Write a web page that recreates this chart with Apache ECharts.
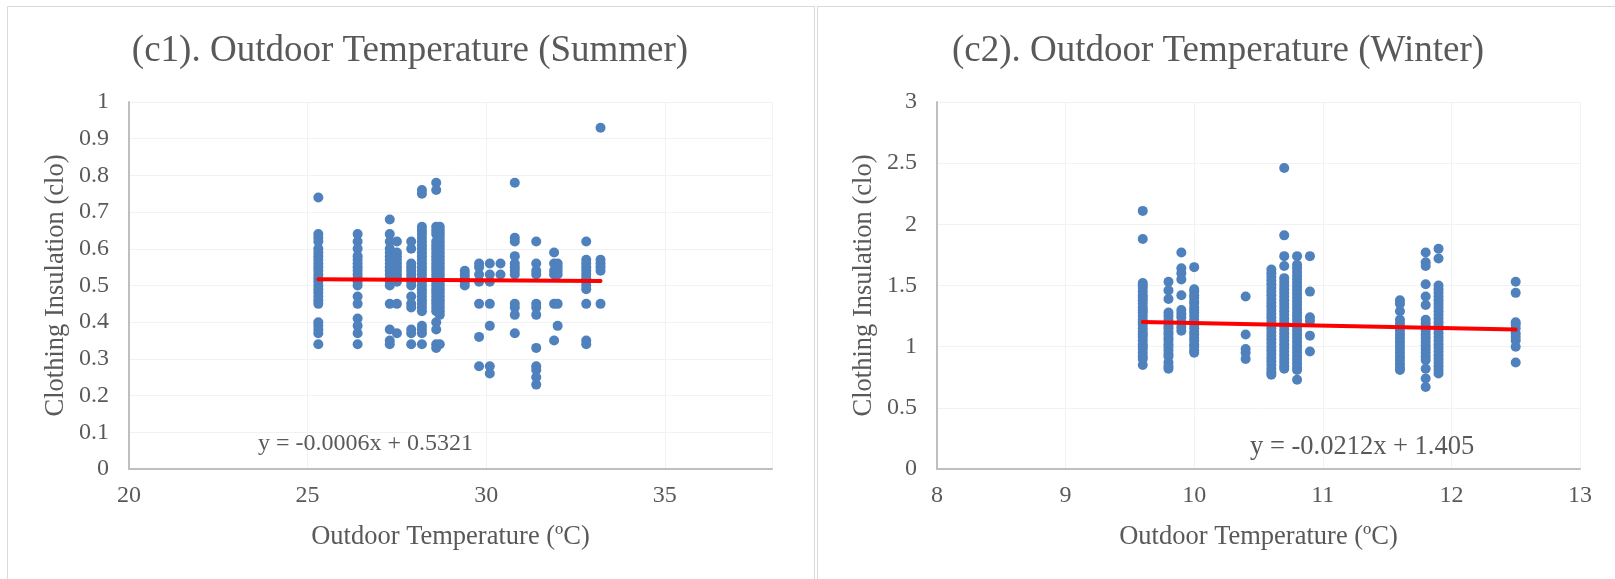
<!DOCTYPE html>
<html>
<head>
<meta charset="utf-8">
<title>Clothing Insulation vs Outdoor Temperature</title>
<script src="https://cdn.jsdelivr.net/npm/echarts@6/dist/echarts.min.js"></script>
<style>
  html, body { margin: 0; padding: 0; background: #ffffff; }
  #chart { width: 1615px; height: 579px; }
</style>
</head>
<body>
<div id="chart"></div>
<script>
// ---- Summer survey: outdoor temperature (°C) and clothing insulation (clo) ----
const summerTemp = [25.3, 26.4, 27.3, 27.5, 27.9, 28.2, 28.6, 28.7, 29.4, 29.8, 30.1, 30.4, 30.8, 31.4, 31.9, 32.0, 32.8, 33.2];
const summerClo = [
  [0.74, 0.64, 0.63, 0.62, 0.60, 0.59, 0.58, 0.57, 0.56, 0.55, 0.54, 0.53, 0.52, 0.51, 0.50, 0.49, 0.48, 0.47, 0.46, 0.45, 0.40, 0.39, 0.38, 0.37, 0.34],
  [0.64, 0.62, 0.60, 0.58, 0.57, 0.56, 0.55, 0.54, 0.53, 0.52, 0.51, 0.50, 0.47, 0.45, 0.41, 0.39, 0.37, 0.34],
  [0.68, 0.64, 0.62, 0.60, 0.59, 0.58, 0.57, 0.56, 0.55, 0.54, 0.53, 0.52, 0.51, 0.50, 0.45, 0.38, 0.35, 0.34],
  [0.62, 0.59, 0.58, 0.57, 0.56, 0.55, 0.54, 0.53, 0.52, 0.51, 0.45, 0.37],
  [0.62, 0.60, 0.56, 0.55, 0.54, 0.53, 0.52, 0.51, 0.50, 0.47, 0.45, 0.44, 0.38, 0.37, 0.34],
  [0.76, 0.75, 0.66, 0.65, 0.64, 0.63, 0.62, 0.61, 0.60, 0.59, 0.58, 0.57, 0.56, 0.55, 0.54, 0.53, 0.52, 0.51, 0.50, 0.49, 0.48, 0.47, 0.46, 0.45, 0.44, 0.43, 0.39, 0.38, 0.37, 0.34],
  [0.78, 0.76, 0.66, 0.65, 0.64, 0.62, 0.61, 0.60, 0.59, 0.58, 0.57, 0.56, 0.55, 0.54, 0.53, 0.52, 0.51, 0.50, 0.49, 0.48, 0.47, 0.46, 0.45, 0.44, 0.43, 0.40, 0.38, 0.34, 0.33],
  [0.66, 0.65, 0.64, 0.63, 0.62, 0.61, 0.60, 0.59, 0.58, 0.57, 0.56, 0.55, 0.54, 0.53, 0.52, 0.51, 0.50, 0.49, 0.48, 0.47, 0.46, 0.45, 0.44, 0.43, 0.42, 0.34],
  [0.54, 0.53, 0.52, 0.51, 0.50],
  [0.56, 0.55, 0.53, 0.51, 0.45, 0.36, 0.28],
  [0.56, 0.53, 0.51, 0.45, 0.39, 0.28, 0.26],
  [0.56, 0.53],
  [0.78, 0.63, 0.62, 0.58, 0.56, 0.55, 0.54, 0.53, 0.45, 0.44, 0.42, 0.37],
  [0.62, 0.56, 0.54, 0.53, 0.45, 0.44, 0.42, 0.33, 0.28, 0.27, 0.25, 0.23],
  [0.59, 0.56, 0.54, 0.53, 0.45, 0.35],
  [0.56, 0.55, 0.54, 0.53, 0.45, 0.39],
  [0.62, 0.57, 0.56, 0.55, 0.54, 0.53, 0.52, 0.51, 0.50, 0.49, 0.45, 0.35, 0.34],
  [0.93, 0.57, 0.56, 0.55, 0.54, 0.45]
];
const summerFit = [-0.0006, 0.5321];           // slope, intercept
const summerXAxis = [20, 38, 5];               // min, max, interval
const summerYAxis = [0, 1, 0.1];

// ---- Winter survey ----
const winterTemp = [9.6, 9.8, 9.9, 10.0, 10.4, 10.6, 10.7, 10.8, 10.9, 11.6, 11.8, 11.9, 12.5];
const winterClo = [
  [2.11, 1.88, 1.52, 1.50, 1.48, 1.45, 1.42, 1.40, 1.38, 1.35, 1.32, 1.30, 1.28, 1.25, 1.22, 1.20, 1.18, 1.15, 1.12, 1.10, 1.08, 1.05, 1.02, 1.00, 0.98, 0.95, 0.92, 0.90, 0.85],
  [1.53, 1.46, 1.39, 1.28, 1.25, 1.22, 1.20, 1.17, 1.15, 1.12, 1.10, 1.07, 1.05, 1.02, 1.00, 0.97, 0.94, 0.92, 0.87, 0.84, 0.82],
  [1.77, 1.64, 1.60, 1.55, 1.42, 1.30, 1.27, 1.24, 1.20, 1.16, 1.13],
  [1.65, 1.47, 1.45, 1.42, 1.40, 1.37, 1.35, 1.32, 1.30, 1.28, 1.25, 1.22, 1.20, 1.18, 1.15, 1.12, 1.10, 1.07, 1.05, 1.02, 1.00, 0.97, 0.95],
  [1.41, 1.10, 0.98, 0.95, 0.90],
  [1.63, 1.60, 1.57, 1.54, 1.51, 1.48, 1.45, 1.42, 1.39, 1.36, 1.33, 1.30, 1.27, 1.24, 1.21, 1.18, 1.15, 1.12, 1.09, 1.06, 1.03, 1.00, 0.97, 0.94, 0.91, 0.88, 0.85, 0.82, 0.79, 0.77],
  [2.46, 1.91, 1.74, 1.66, 1.56, 1.53, 1.50, 1.47, 1.44, 1.41, 1.38, 1.35, 1.32, 1.29, 1.26, 1.23, 1.20, 1.17, 1.14, 1.11, 1.08, 1.05, 1.02, 0.99, 0.96, 0.93, 0.90, 0.87, 0.84, 0.82],
  [1.74, 1.67, 1.64, 1.61, 1.58, 1.55, 1.52, 1.49, 1.46, 1.43, 1.40, 1.37, 1.34, 1.31, 1.28, 1.25, 1.22, 1.19, 1.16, 1.13, 1.10, 1.07, 1.04, 1.01, 0.98, 0.95, 0.92, 0.89, 0.86, 0.83, 0.81, 0.73],
  [1.74, 1.45, 1.24, 1.21, 1.09, 0.96],
  [1.38, 1.35, 1.29, 1.22, 1.19, 1.16, 1.13, 1.10, 1.07, 1.04, 1.01, 0.98, 0.95, 0.92, 0.89, 0.86, 0.83, 0.81],
  [1.77, 1.69, 1.66, 1.51, 1.41, 1.34, 1.22, 1.19, 1.16, 1.13, 1.10, 1.07, 1.04, 1.01, 0.98, 0.95, 0.92, 0.89, 0.82, 0.74, 0.67],
  [1.80, 1.72, 1.50, 1.47, 1.44, 1.41, 1.38, 1.35, 1.32, 1.29, 1.26, 1.23, 1.20, 1.17, 1.14, 1.11, 1.08, 1.05, 1.02, 0.99, 0.96, 0.93, 0.90, 0.87, 0.84, 0.81, 0.78],
  [1.53, 1.44, 1.20, 1.18, 1.15, 1.11, 1.08, 1.05, 1.00, 0.87]
];
const winterFit = [-0.0212, 1.405];
const winterXAxis = [8, 13, 1];
const winterYAxis = [0, 3, 0.5];

const titles = ['(c1). Outdoor Temperature (Summer)', '(c2). Outdoor Temperature (Winter)'];
const xName = 'Outdoor Temperature (ºC)';
const yName = 'Clothing Insulation (clo)';
const equations = ['y = -0.0006x + 0.5321', 'y = -0.0212x + 1.405'];

// ---- helpers ----
const FONT = "'Liberation Serif', 'Times New Roman', serif";
const TEXT = '#595959';
const DOT = '#4F81BD';

function points(temps, clo) {
  const out = [];
  temps.forEach((t, i) => clo[i].forEach(v => out.push([t, v])));
  return out;
}
function fitLine(temps, fit) {
  const lo = Math.min(...temps), hi = Math.max(...temps);
  return [[lo, fit[0] * lo + fit[1]], [hi, fit[0] * hi + fit[1]]];
}
function xAxisOf(idx, r) {
  return {
    type: 'value', gridIndex: idx, min: r[0], max: r[1], interval: r[2],
    name: xName, nameLocation: 'middle', nameGap: 55,
    nameTextStyle: { fontFamily: FONT, fontSize: 26.5, color: TEXT },
    axisLine: { show: true, onZero: false, lineStyle: { color: '#BFBFBF', width: 2 } },
    axisTick: { show: false },
    axisLabel: { fontFamily: FONT, fontSize: 24, color: TEXT, margin: 15, showMaxLabel: r[1] % r[2] === 0 },
    splitLine: { show: true, lineStyle: { color: '#F2F2F2', width: 1 } }
  };
}
function yAxisOf(idx, r) {
  return {
    type: 'value', gridIndex: idx, min: r[0], max: r[1], interval: r[2],
    name: yName, nameLocation: 'middle', nameGap: 59, nameRotate: 90,
    nameTextStyle: { fontFamily: FONT, fontSize: 26.5, color: TEXT },
    axisLine: { show: true, lineStyle: { color: '#BFBFBF', width: 2 } },
    axisTick: { show: false },
    axisLabel: { fontFamily: FONT, fontSize: 24, color: TEXT, margin: 20 },
    splitLine: { show: true, lineStyle: { color: '#F2F2F2', width: 1 } }
  };
}
function textEl(str, x, y, size, align) {
  return {
    type: 'text', x: x, y: y, z: 100,
    style: {
      text: str, fill: TEXT, font: size + 'px ' + FONT,
      align: align, textAlign: align, verticalAlign: 'middle', textVerticalAlign: 'middle'
    }
  };
}

const chart = echarts.init(document.getElementById('chart'), null, { renderer: 'canvas' });

chart.setOption({
  animation: false,
  backgroundColor: '#ffffff',
  grid: [
    { left: 129, top: 102, width: 643, height: 367 },
    { left: 937, top: 102, width: 643, height: 367 }
  ],
  xAxis: [xAxisOf(0, summerXAxis), xAxisOf(1, winterXAxis)],
  yAxis: [yAxisOf(0, summerYAxis), yAxisOf(1, winterYAxis)],
  graphic: [
    { type: 'rect', shape: { x: 7.5, y: 6.5, width: 807, height: 620 }, style: { fill: 'none', stroke: '#D9D9D9', lineWidth: 1 }, z: 0 },
    { type: 'rect', shape: { x: 817.5, y: 6.5, width: 810, height: 620 }, style: { fill: 'none', stroke: '#D9D9D9', lineWidth: 1 }, z: 0 },
    textEl(titles[0], 410, 51, 37, 'center'),
    textEl(titles[1], 1218, 51, 37, 'center'),
    textEl(equations[0], 258, 444, 24, 'left'),
    textEl(equations[1], 1250, 447, 26.5, 'left')
  ],
  series: [
    {
      type: 'scatter', xAxisIndex: 0, yAxisIndex: 0, symbolSize: 10,
      itemStyle: { color: DOT, opacity: 1 }, data: points(summerTemp, summerClo), z: 2
    },
    {
      type: 'line', xAxisIndex: 0, yAxisIndex: 0, symbol: 'none', silent: true,
      lineStyle: { color: '#FF0000', width: 4, cap: 'round' }, data: fitLine(summerTemp, summerFit), z: 3
    },
    {
      type: 'scatter', xAxisIndex: 1, yAxisIndex: 1, symbolSize: 10,
      itemStyle: { color: DOT, opacity: 1 }, data: points(winterTemp, winterClo), z: 2
    },
    {
      type: 'line', xAxisIndex: 1, yAxisIndex: 1, symbol: 'none', silent: true,
      lineStyle: { color: '#FF0000', width: 4, cap: 'round' }, data: fitLine(winterTemp, winterFit), z: 3
    }
  ]
});
</script>
</body>
</html>
